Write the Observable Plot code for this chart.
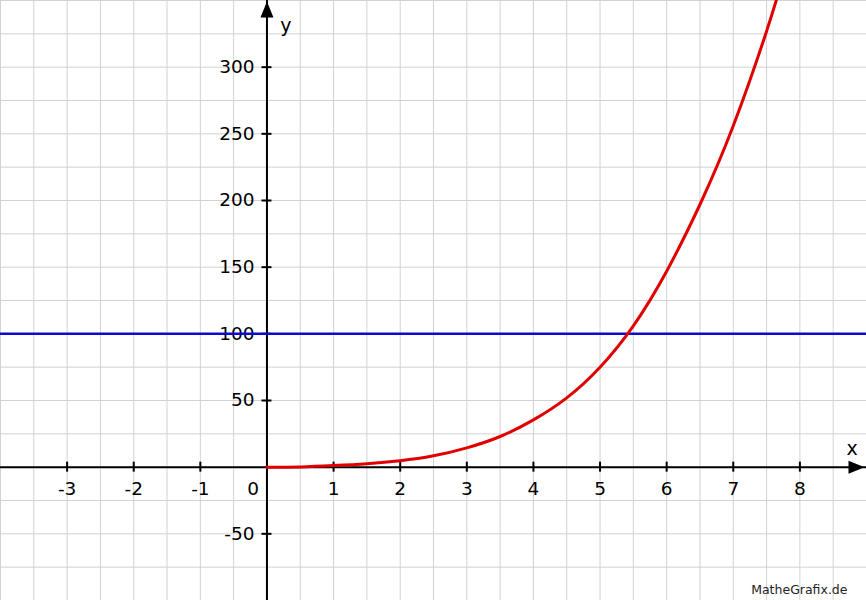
<!DOCTYPE html>
<html><head><meta charset="utf-8">
<script src="https://cdn.jsdelivr.net/npm/d3@7"></script>
<script src="https://cdn.jsdelivr.net/npm/@observablehq/plot@0.6"></script>
<style>
html,body{margin:0;padding:0;background:#fff;}
#chart svg{display:block;}
</style></head><body><div id="chart"></div>
<script>
const xDomain = [-4, 9];
const yDomain = [-100, 350];
const xTicks = [-3, -2, -1, 1, 2, 3, 4, 5, 6, 7, 8];
const yTicks = [-50, 50, 100, 150, 200, 250, 300];
const zeroLabel = ["0"];
const curveX = [0, 0.5, 1, 1.5, 2, 2.5, 3, 3.5, 4, 4.5, 5, 5.5, 6, 6.5, 7, 7.5, 7.75];
const curveY = [0, 0.2, 1.2, 2.6, 4.8, 8.5, 14.5, 23, 35.5, 52, 75, 106, 147, 197, 256, 327, 368];
const hLineY = [100];
const axisNames = ["x", "y"];
const footer = ["MatheGrafix.de"];

const curve = curveX.map((x, i) => ({x, y: curveY[i]}));
const gridXs = d3.range(xDomain[0], xDomain[1] + 1e-9, 0.5);
const gridYs = d3.range(yDomain[0], yDomain[1] + 1e-9, 25);

const upArrow = {draw(ctx) { ctx.moveTo(0, 1); ctx.lineTo(-6.5, 17); ctx.lineTo(6.5, 17); ctx.closePath(); }};
const rightArrow = {draw(ctx) { ctx.moveTo(-2, 0); ctx.lineTo(-18, -6.5); ctx.lineTo(-18, 6.5); ctx.closePath(); }};

const plot = Plot.plot({
  width: 866,
  height: 600,
  margin: 0,
  x: {domain: xDomain, axis: null},
  y: {domain: yDomain, axis: null},
  style: {fontFamily: "DejaVu Sans", background: "white", color: "black"},
  marks: [
    Plot.ruleX(gridXs, {stroke: "#d2d2d2", strokeWidth: 1}),
    Plot.ruleY(gridYs, {stroke: "#d2d2d2", strokeWidth: 1}),
    Plot.ruleY([0], {x1: xDomain[0], x2: xDomain[1], stroke: "black", strokeWidth: 2}),
    Plot.ruleX([0], {y1: yDomain[0], y2: yDomain[1], stroke: "black", strokeWidth: 2}),
    Plot.ruleX(xTicks, {x: d => d, y1: 0, y2: 0, insetTop: -5, insetBottom: -5, stroke: "black", strokeWidth: 2}),
    Plot.ruleY(yTicks, {y: d => d, x1: 0, x2: 0, insetLeft: -5, insetRight: -5, stroke: "black", strokeWidth: 2}),
    Plot.dot([0], {x: 0, y: yDomain[1], symbol: upArrow, fill: "black", stroke: "none"}),
    Plot.dot([0], {x: xDomain[1], y: 0, symbol: rightArrow, fill: "black", stroke: "none"}),
    Plot.text(xTicks, {x: d => d, y: 0, text: d => String(d), dy: 21.5, fontSize: 18.5, fill: "black"}),
    Plot.text(zeroLabel, {x: 0, y: 0, text: d => d, textAnchor: "end", dx: -8, dy: 21.5, fontSize: 18.5, fill: "black"}),
    Plot.text(yTicks, {x: 0, y: d => d, text: d => String(d), textAnchor: "end", dx: -12.5, fontSize: 18.5, fill: "black"}),
    Plot.text([axisNames[0]], {x: xDomain[1], y: 0, text: d => d, dx: -14.5, dy: -18.5, fontSize: 19, fill: "black"}),
    Plot.text([axisNames[1]], {x: 0, y: yDomain[1], text: d => d, dx: 19, dy: 25, fontSize: 19, fill: "black"}),
    Plot.ruleY(hLineY, {y: d => d, stroke: "#0a0ad0", strokeWidth: 2.5}),
    Plot.line(curve, {x: "x", y: "y", stroke: "#e00000", strokeWidth: 3, curve: "natural", clip: true}),
    Plot.text(footer, {frameAnchor: "bottom-right", text: d => d, dx: -19, dy: -7, fontSize: 12.5, fill: "#222"})
  ]
});
document.getElementById("chart").appendChild(plot);
</script>
</body></html>
